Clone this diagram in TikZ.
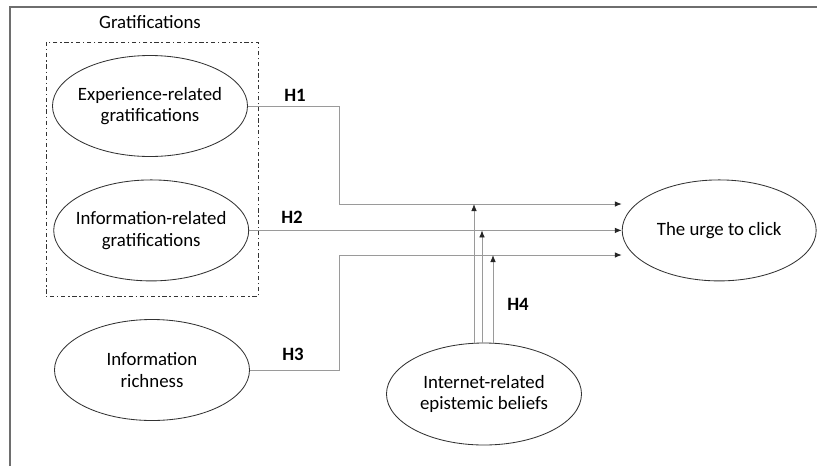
\documentclass[tikz,border=0pt]{standalone}
\usepackage{fontspec}
\setmainfont{Carlito}
\usetikzlibrary{shapes.geometric,arrows.meta,calc}
\definecolor{linkcolor}{HTML}{9a9a9a}
\definecolor{framecolor}{HTML}{6e6e6e}

\begin{document}
\begin{tikzpicture}[
  font=\fontsize{13.4}{15.2}\selectfont,
  construct/.style={ellipse,draw=black!80,line width=.6pt,minimum width=4.875cm,minimum height=2.525cm,inner sep=-9pt,align=center},
  hyp/.style={font=\fontsize{13.4}{15.2}\selectfont\bfseries},
  link/.style={draw=linkcolor,line width=.6pt,-{Latex[length=5pt,width=4pt,color=black!85]}}
]
  \useasboundingbox (0,0) rectangle (20.425,-11.65);
  % outer frame (open on the right and at the bottom)
  \draw[framecolor,line width=1.4pt] (.25,-11.65) -- (.25,-.17) -- (20.425,-.17);
  % gratifications group
  \node (gratlabel) at (3.75,-.55) {Gratifications};
  \draw[black!80,line width=.6pt,dash pattern=on 3pt off 2pt on 1pt off 2pt] (1.15,-1.05) rectangle (6.45,-7.42);
  % constructs
  \node[construct] (exp) at (3.75,-2.65) {Experience-related\\gratifications};
  \node[construct] (info) at (3.78,-5.76) {Information-related\\gratifications};
  \node[construct] (rich) at (3.8,-9.25) {Information\\richness};
  \node[construct,minimum width=4.85cm] (urge) at (17.98,-5.76) {The urge to click};
  \node[construct,minimum height=2.55cm] (beliefs) at (12.1,-9.85) {Internet-related\\epistemic beliefs};
  % bends of the direct paths
  \coordinate (k1) at (8.475,-5.1); \coordinate (k3) at (8.475,-6.375);
  % direct paths
  \draw[link] (exp.east) -| (k1) -- (k1 -| urge.west);
  \draw[link] (info.east) -- (urge.west);
  \draw[link] (rich.east) -| (k3) -- (k3 -| urge.west);
  % moderation
  \coordinate (m1) at ($(beliefs.north)+(-.25,0)$);
  \coordinate (m2) at ($(beliefs.north)+(-.05,0)$);
  \coordinate (m3) at ($(beliefs.north)+(.225,0)$);
  \draw[link] (m1) -- (m1 |- k1);
  \draw[link] (m2) -- (m2 |- info.east);
  \draw[link] (m3) -- (m3 |- k3);
  % hypotheses
  \node[hyp] (h1) at (7.375,-2.375) {H1};
  \node[hyp] (h2) at (7.3,-5.425) {H2};
  \node[hyp] (h3) at (7.325,-8.85) {H3};
  \node[hyp] (h4) at (12.95,-7.6) {H4};
\end{tikzpicture}
\end{document}
